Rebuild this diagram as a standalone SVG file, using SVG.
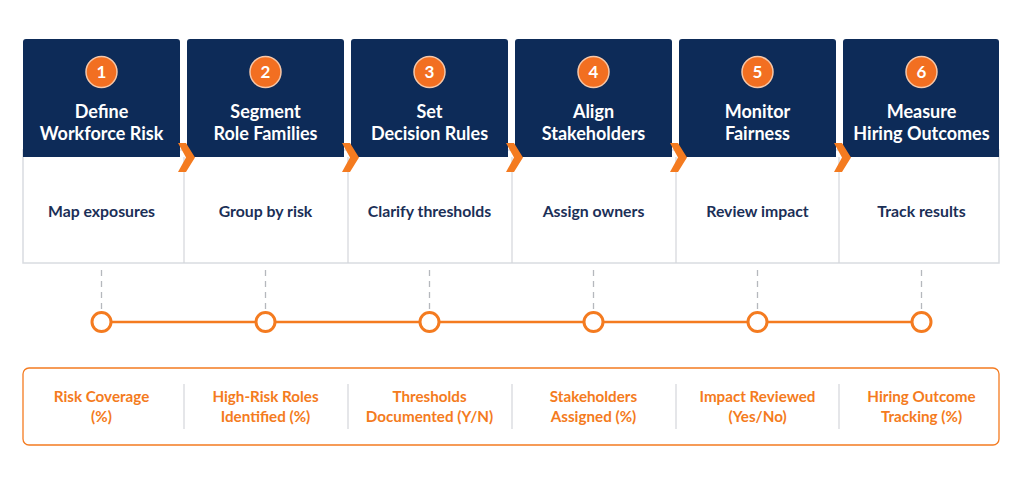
<svg xmlns="http://www.w3.org/2000/svg" width="1024" height="482" viewBox="0 0 1024 482">
<style>
.hdr{fill:#0d2b58}
.body{fill:#ffffff;stroke:#d9dce1;stroke-width:1.5}
.num{fill:#f26f21;stroke:#f6c7a8;stroke-width:1.5}
.numt{font-family:Lato,"Noto Sans",sans-serif;font-weight:700;font-size:17px;fill:#ffffff;text-anchor:middle}
.title{font-family:Lato,"Noto Sans",sans-serif;font-weight:700;font-size:18px;fill:#ffffff;text-anchor:middle}
.sub{font-family:Lato,"Noto Sans",sans-serif;font-weight:700;font-size:15.8px;fill:#1b2f57;text-anchor:middle}
.chev{fill:#f47b20}
.dash{stroke:#b5b8bd;stroke-width:1.3;stroke-dasharray:6 5;fill:none}
.dot{fill:#ffffff;stroke:#f47b20;stroke-width:3}
.tl{stroke:#f47b20;stroke-width:2.5}
.kpi{font-family:Lato,"Noto Sans",sans-serif;font-weight:700;font-size:15.2px;fill:#f47b20;text-anchor:middle}
.div{stroke:#d4d6da;stroke-width:1.2}
</style>
<rect width="1024" height="482" fill="#ffffff"/>
<rect class="body" x="23" y="150" width="976" height="113"/>
<g id="connectors">
<line class="div" x1="184" y1="157" x2="184" y2="263"/>
<line class="div" x1="348" y1="157" x2="348" y2="263"/>
<line class="div" x1="512" y1="157" x2="512" y2="263"/>
<line class="div" x1="676" y1="157" x2="676" y2="263"/>
<line class="div" x1="839" y1="157" x2="839" y2="263"/>
<line class="dash" x1="101.5" y1="270" x2="101.5" y2="310"/>
<line class="dash" x1="265.5" y1="270" x2="265.5" y2="310"/>
<line class="dash" x1="429.5" y1="270" x2="429.5" y2="310"/>
<line class="dash" x1="593.5" y1="270" x2="593.5" y2="310"/>
<line class="dash" x1="757.5" y1="270" x2="757.5" y2="310"/>
<line class="dash" x1="921.5" y1="270" x2="921.5" y2="310"/>
<line class="tl" x1="101.5" y1="322" x2="921.5" y2="322"/>
</g>
<g id="step1">
<path class="hdr" d="M23,42 a3,3 0 0 1 3,-3 h151 a3,3 0 0 1 3,3 v115 h-157 z"/>
<circle class="num" cx="101.5" cy="72" r="15.5"/><text class="numt" x="101.5" y="78">1</text>
<text class="title" x="101.5" y="118">Define</text><text class="title" x="101.5" y="140">Workforce Risk</text>
<text class="sub" x="101.5" y="217">Map exposures</text>
</g>
<g id="step2">
<path class="hdr" d="M187,42 a3,3 0 0 1 3,-3 h151 a3,3 0 0 1 3,3 v115 h-157 z"/>
<circle class="num" cx="265.5" cy="72" r="15.5"/><text class="numt" x="265.5" y="78">2</text>
<text class="title" x="265.5" y="118">Segment</text><text class="title" x="265.5" y="140">Role Families</text>
<text class="sub" x="265.5" y="217">Group by risk</text>
</g>
<g id="step3">
<path class="hdr" d="M351,42 a3,3 0 0 1 3,-3 h151 a3,3 0 0 1 3,3 v115 h-157 z"/>
<circle class="num" cx="429.5" cy="72" r="15.5"/><text class="numt" x="429.5" y="78">3</text>
<text class="title" x="429.5" y="118">Set</text><text class="title" x="429.5" y="140">Decision Rules</text>
<text class="sub" x="429.5" y="217">Clarify thresholds</text>
</g>
<g id="step4">
<path class="hdr" d="M515,42 a3,3 0 0 1 3,-3 h151 a3,3 0 0 1 3,3 v115 h-157 z"/>
<circle class="num" cx="593.5" cy="72" r="15.5"/><text class="numt" x="593.5" y="78">4</text>
<text class="title" x="593.5" y="118">Align</text><text class="title" x="593.5" y="140">Stakeholders</text>
<text class="sub" x="593.5" y="217">Assign owners</text>
</g>
<g id="step5">
<path class="hdr" d="M679,42 a3,3 0 0 1 3,-3 h151 a3,3 0 0 1 3,3 v115 h-157 z"/>
<circle class="num" cx="757.5" cy="72" r="15.5"/><text class="numt" x="757.5" y="78">5</text>
<text class="title" x="757.5" y="118">Monitor</text><text class="title" x="757.5" y="140">Fairness</text>
<text class="sub" x="757.5" y="217">Review impact</text>
</g>
<g id="step6">
<path class="hdr" d="M843,42 a3,3 0 0 1 3,-3 h150 a3,3 0 0 1 3,3 v115 h-156 z"/>
<circle class="num" cx="921.5" cy="72" r="15.5"/><text class="numt" x="921.5" y="78">6</text>
<text class="title" x="921.5" y="118">Measure</text><text class="title" x="921.5" y="140">Hiring Outcomes</text>
<text class="sub" x="921.5" y="217">Track results</text>
</g>
<g id="chevrons">
<polygon class="chev" points="178,143 186,143 195,157.5 186,172 178,172 186,157.5"/>
<polygon class="chev" points="342,143 350,143 359,157.5 350,172 342,172 350,157.5"/>
<polygon class="chev" points="506,143 514,143 523,157.5 514,172 506,172 514,157.5"/>
<polygon class="chev" points="670,143 678,143 687,157.5 678,172 670,172 678,157.5"/>
<polygon class="chev" points="834,143 842,143 851,157.5 842,172 834,172 842,157.5"/>
</g>
<g id="milestones">
<circle class="dot" cx="101.5" cy="322" r="9.5"/>
<circle class="dot" cx="265.5" cy="322" r="9.5"/>
<circle class="dot" cx="429.5" cy="322" r="9.5"/>
<circle class="dot" cx="593.5" cy="322" r="9.5"/>
<circle class="dot" cx="757.5" cy="322" r="9.5"/>
<circle class="dot" cx="921.5" cy="322" r="9.5"/>
</g>
<g id="kpis">
<rect x="23" y="368" width="976" height="77" rx="6" fill="#ffffff" stroke="#f47b20" stroke-width="1.3"/>
<line class="div" x1="184" y1="384" x2="184" y2="429"/>
<line class="div" x1="348" y1="384" x2="348" y2="429"/>
<line class="div" x1="512" y1="384" x2="512" y2="429"/>
<line class="div" x1="676" y1="384" x2="676" y2="429"/>
<line class="div" x1="839" y1="384" x2="839" y2="429"/>
<text class="kpi" x="101.5" y="402">Risk Coverage</text><text class="kpi" x="101.5" y="422">(%)</text>
<text class="kpi" x="265.5" y="402">High-Risk Roles</text><text class="kpi" x="265.5" y="422">Identified (%)</text>
<text class="kpi" x="429.5" y="402">Thresholds</text><text class="kpi" x="429.5" y="422">Documented (Y/N)</text>
<text class="kpi" x="593.5" y="402">Stakeholders</text><text class="kpi" x="593.5" y="422">Assigned (%)</text>
<text class="kpi" x="757.5" y="402">Impact Reviewed</text><text class="kpi" x="757.5" y="422">(Yes/No)</text>
<text class="kpi" x="921.5" y="402">Hiring Outcome</text><text class="kpi" x="921.5" y="422">Tracking (%)</text>
</g>
</svg>
